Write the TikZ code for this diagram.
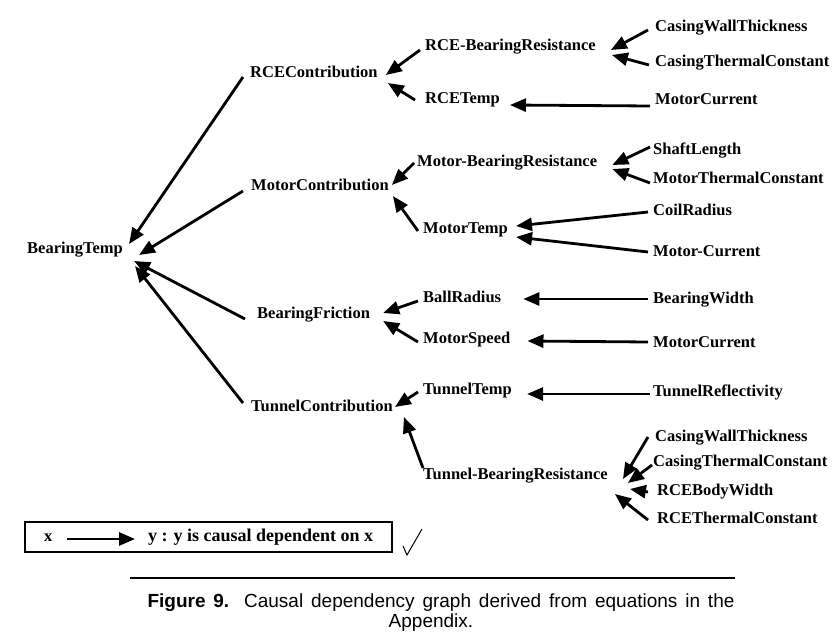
\documentclass[tikz,border=0pt]{standalone}
\usepackage{fontspec}
\newfontfamily\capfont{Liberation Sans}
\newfontfamily\nodefont{Liberation Serif}
\usetikzlibrary{arrows.meta, calc}
\tikzset{dep/.style={-{Triangle[length=16pt,width=13pt]}, line width=2.8pt},
  capnode/.style={font=\capfont\fontsize{19}{23}\selectfont, anchor=center, text height=13pt, text depth=4pt}}

\begin{document}
\begin{tikzpicture}[x=1pt, y=-1pt, every node/.style={font=\nodefont\fontsize{16.5}{19}\selectfont\bfseries, anchor=west, inner sep=0pt, text height=13pt, text depth=3pt}]
\useasboundingbox (0,0) rectangle (836,639);
\node (btemp) at (27,249) {BearingTemp};
\node (rcec) at (250,73) {RCEContribution};
\node (motc) at (251,186) {MotorContribution};
\node (bfric) at (257,314) {BearingFriction};
\node (tunc) at (251,406) {TunnelContribution};
\node (rcebr) at (425,46) {RCE-BearingResistance};
\node (rcet) at (425,99) {RCETemp};
\node (motbr) at (417,162) {Motor-BearingResistance};
\node (mott) at (423,229) {MotorTemp};
\node (ballr) at (423,298) {BallRadius};
\node (mspd) at (423,338) {MotorSpeed};
\node (tunt) at (423,389) {TunnelTemp};
\node (tunbr) at (423,474) {Tunnel-BearingResistance};
\node (cwt1) at (655,27) {CasingWallThickness};
\node (ctc1) at (655,62) {CasingThermalConstant};
\node (mcur1) at (655,100) {MotorCurrent};
\node (shaft) at (653,150) {ShaftLength};
\node (mtc) at (653,179) {MotorThermalConstant};
\node (coil) at (653,211) {CoilRadius};
\node (mcur2) at (653,252) {Motor-Current};
\node (bwid) at (653,299) {BearingWidth};
\node (mcur3) at (653,342) {MotorCurrent};
\node (tunref) at (653,391) {TunnelReflectivity};
\node (cwt2) at (655,436) {CasingWallThickness};
\node (ctc2) at (653,461) {CasingThermalConstant};
\node (rbw) at (657,490) {RCEBodyWidth};
\node (rtc) at (657,518) {RCEThermalConstant};
\draw[dep] ($(rcec.west)+(-7,4)$) -- ($(btemp.east)+(6,-5)$);
\draw[dep] ($(motc.west)+(-8,5)$) -- ($(btemp.east)+(16,6)$);
\draw[dep] ($(bfric.west)+(-12,5)$) -- ($(btemp.east)+(11,12)$);
\draw[dep] ($(tunc.west)+(-8,-3)$) -- ($(btemp.east)+(12,17)$);
\draw[dep] ($(rcebr.west)+(-5,4)$) -- ($(rcec.east)+(8,2)$);
\draw[dep] ($(rcet.west)+(-10,1)$) -- ($(rcec.east)+(10,10)$);
\draw[dep] ($(cwt1.west)+(-7,3)$) -- ($(rcebr.east)+(15,4)$);
\draw[dep] ($(ctc1.west)+(-6,3)$) -- ($(rcebr.east)+(16,9)$);
\draw[dep] ($(mcur1.west)+(-5,6)$) -- ($(rcet.east)+(10,6)$);
\draw[dep] ($(motbr.west)+(-3,1)$) -- ($(motc.east)+(3,-1)$);
\draw[dep] ($(mott.west)+(-5,2)$) -- ($(motc.east)+(4,10)$);
\draw[dep] ($(shaft.west)+(-3,-3)$) -- ($(motbr.east)+(15,3)$);
\draw[dep] ($(mtc.west)+(-3,4)$) -- ($(motbr.east)+(15,7)$);
\draw[dep] ($(coil.west)+(-5,1)$) -- ($(mott.east)+(8,-3)$);
\draw[dep] ($(mcur2.west)+(-5,0)$) -- ($(mott.east)+(8,8)$);
\draw[dep] ($(ballr.west)+(-5,3)$) -- ($(bfric.east)+(13,-1)$);
\draw[dep] ($(mspd.west)+(-5,4)$) -- ($(bfric.east)+(13,7)$);
\draw[dep] ($(bwid.west)+(-5,0)$) -- ($(ballr.east)+(22,1)$);
\draw[dep] ($(mcur3.west)+(-5,0)$) -- ($(mspd.east)+(17,3)$);
\draw[dep] ($(tunref.west)+(-3,3)$) -- ($(tunt.east)+(15,5)$);
\draw[dep] ($(tunt.west)+(-5,3)$) -- ($(tunc.east)+(2,1)$);
\draw[dep] ($(tunbr.west)+(0,-6)$) -- ($(tunc.east)+(11,11)$);
\draw[dep] ($(cwt2.west)+(-7,1)$) -- ($(tunbr.east)+(15,5)$);
\draw[dep] ($(ctc2.west)+(-1,4)$) -- ($(tunbr.east)+(20,9)$);
\draw[dep] ($(rbw.west)+(-9,2)$) -- ($(tunbr.east)+(22,15)$);
\draw[dep] ($(rtc.west)+(-9,2)$) -- ($(tunbr.east)+(7,20)$);
\draw[line width=2.6pt] (25,522) rectangle (392,552);
\node (legx) at (44,536) {x};
\node[font=\nodefont\fontsize{18}{21}\selectfont\bfseries] (legy) at (148,536) {y : y is causal dependent on x};
\draw[dep] ($(legx.east)+(14,3)$) -- ($(legy.west)+(-13,3)$);
\draw[line width=1pt] (403,546) -- (407,555) -- (422,529);
\draw[line width=2pt] (130,578) -- (735,578);
\node[capnode] (cap1) at (441,603) {\makebox[587pt][s]{\textbf{Figure 9.} Causal dependency graph derived from equations in the}};
\node[capnode] (cap2) at (431,623) {Appendix.};
\end{tikzpicture}
\end{document}
